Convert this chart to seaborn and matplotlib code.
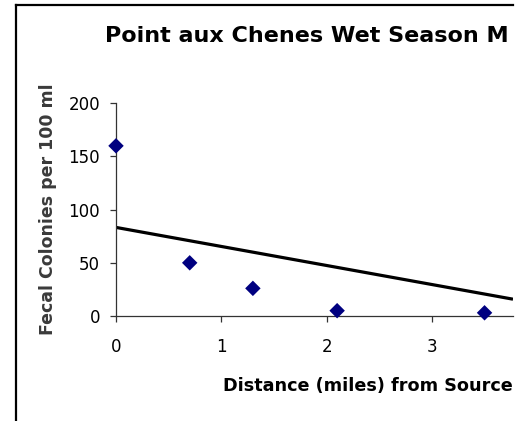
import matplotlib
matplotlib.use("Agg")
import matplotlib.pyplot as plt
from matplotlib.lines import Line2D
import seaborn as sns
import numpy as np
import pandas as pd

# Data
distance_miles = [0.0, 0.7, 1.3, 2.1, 3.5]
fecal_colonies = [160, 50, 26, 5, 3]
trend_intercept = 83.3
trend_slope = -17.9
x_ticks = [0, 1, 2, 3]
y_ticks = [0, 50, 100, 150, 200]

title_text = "Point aux Chenes Wet Season M"
xlabel_text = "Distance (miles) from Source"
ylabel_text = "Fecal Colonies per 100 ml"

sns.set_theme(style="white")
plt.rcParams["font.family"] = ["DejaVu Sans"]

W, H = 530, 421
fig = plt.figure(figsize=(W / 100, H / 100), dpi=100)
fig.patch.set_facecolor("white")

ax_left, ax_right, ax_top, ax_bottom = 116, 513, 103.3, 316
ax = fig.add_axes([ax_left / W, 1 - ax_bottom / H,
                   (ax_right - ax_left) / W, (ax_bottom - ax_top) / H])
ax.set_facecolor("white")

df = pd.DataFrame({"x": distance_miles, "y": fecal_colonies})
xmax = (ax_right - ax_left) / 105.3
tx = np.array([0.0, xmax])
ty = trend_intercept + trend_slope * tx
ax.plot(tx, ty, color="black", lw=2.3, solid_capstyle="butt", zorder=2)
sns.scatterplot(data=df, x="x", y="y", marker="D", s=62, color="#000080",
                edgecolor="none", linewidth=0, ax=ax, zorder=3, clip_on=False)

ax.set_xlim(0, xmax)
ax.set_ylim(0, 200)
ax.set_xticks(x_ticks)
ax.set_yticks(y_ticks)
ax.set_xlabel("")
ax.set_ylabel("")
for s in ["top", "right"]:
    ax.spines[s].set_visible(False)
for s in ["left", "bottom"]:
    ax.spines[s].set_color("#333333")
    ax.spines[s].set_linewidth(0.9)
ax.tick_params(axis="both", which="major", direction="out", length=4.5,
               width=0.9, color="#333333", labelsize=12, labelcolor="black",
               bottom=True, left=True)
ax.tick_params(axis="x", pad=11.5)
ax.tick_params(axis="y", pad=7)

fig.text(105 / W, 1 - 36 / H, title_text, fontsize=16, fontweight="bold",
         ha="left", va="center", color="black")
fig.text(367.5 / W, 1 - 386 / H, xlabel_text, fontsize=12.7, fontweight="bold",
         ha="center", va="center", color="black")
fig.text(48.5 / W, 1 - 209 / H, ylabel_text, fontsize=12.5, fontweight="bold",
         ha="center", va="center", rotation=90, color="#3a3a3a")

# chart-area border (left and top edges visible; the rest is cropped)
bx, by, bright = 15.5, 4.5, 513
fig.add_artist(Line2D([bx / W, bx / W], [-0.1, 1 - by / H],
                      transform=fig.transFigure, color="black", lw=1.6,
                      solid_capstyle="projecting"))
fig.add_artist(Line2D([bx / W, bright / W], [1 - by / H, 1 - by / H],
                      transform=fig.transFigure, color="black", lw=1.6,
                      solid_capstyle="projecting"))

fig.savefig("out.png", dpi=100, facecolor="white")
